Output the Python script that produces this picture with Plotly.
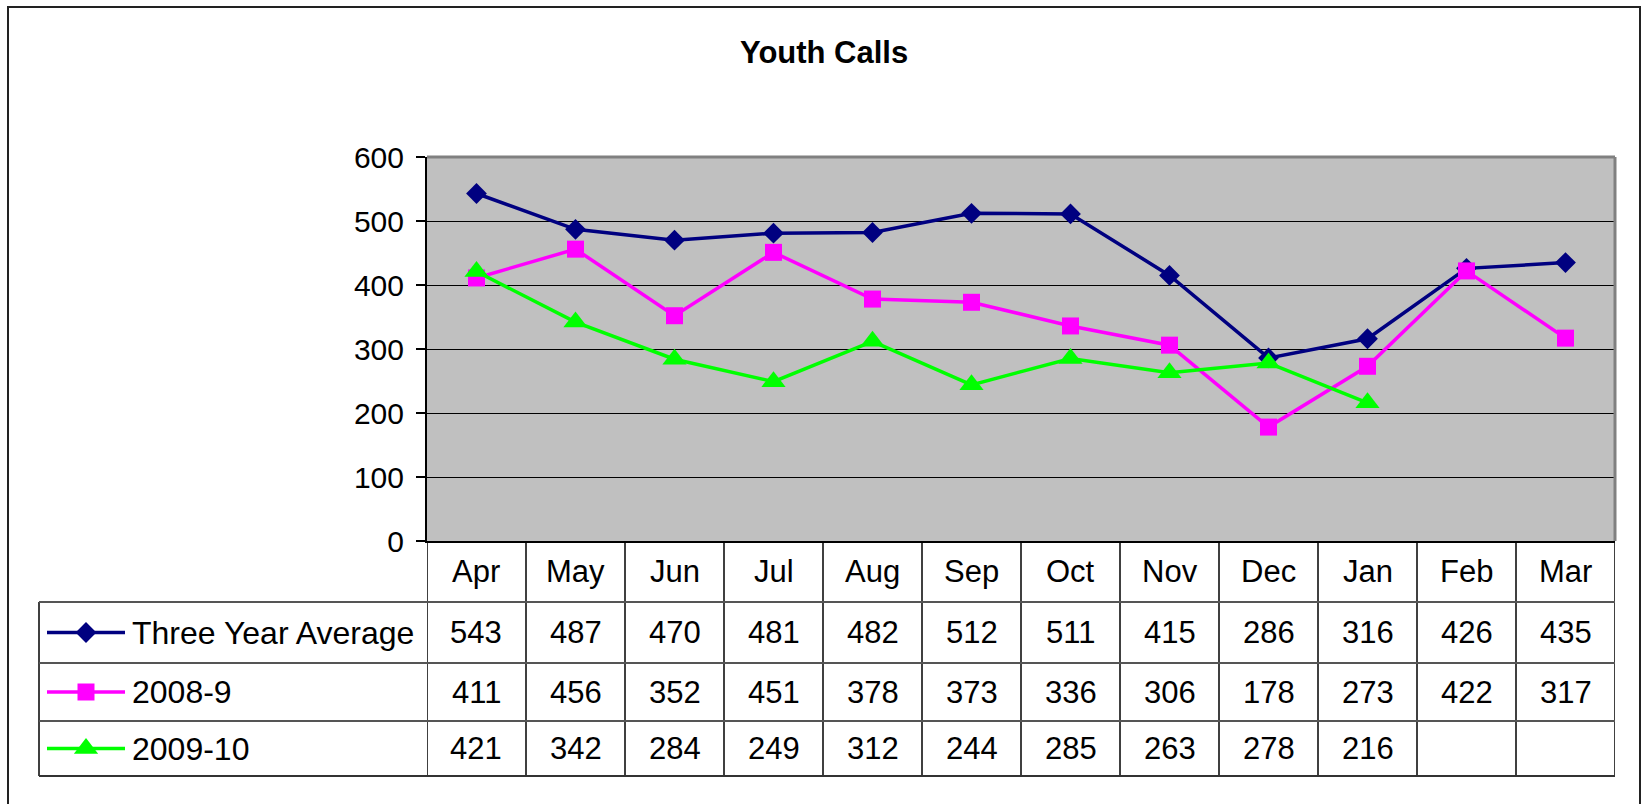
import plotly.graph_objects as go

# ---------------- data ----------------
months = ["Apr", "May", "Jun", "Jul", "Aug", "Sep", "Oct", "Nov", "Dec", "Jan", "Feb", "Mar"]
three_year_avg = [543, 487, 470, 481, 482, 512, 511, 415, 286, 316, 426, 435]
y2008_9 = [411, 456, 352, 451, 378, 373, 336, 306, 178, 273, 422, 317]
y2009_10 = [421, 342, 284, 249, 312, 244, 285, 263, 278, 216, None, None]
series_names = ["Three Year Average", "2008-9", "2009-10"]
y_ticks = [0, 100, 200, 300, 400, 500, 600]
title_text = "Youth Calls"

# ---------------- styling / layout constants ----------------
W, H = 1642, 804
FONT = "Liberation Sans, Arial, sans-serif"
FS = 31
colors = ["#000080", "#FF00FF", "#00FF00"]
symbols = ["diamond", "square", "triangle-up"]
msizes = [16, 17, 21]
LW = 3.5

PLOT_L, PLOT_R, PLOT_T, PLOT_B = 427, 1615, 157, 541
TABLE_L = 39
ROW_LINES = [602, 663, 721, 776]
KEY_X0, KEY_X1, KEY_XM, TEXT_X = 47, 125, 86, 130


def px(x):
    return x / W


def py(y):
    return 1 - y / H


series = [three_year_avg, y2008_9, y2009_10]

fig = go.Figure()

for name, vals, c, s, ms in zip(series_names, series, colors, symbols, msizes):
    fig.add_trace(go.Scatter(
        x=months, y=vals, name=name, mode="lines+markers",
        line=dict(color=c, width=LW),
        marker=dict(symbol=s, size=ms, color=c, line=dict(width=0)),
        connectgaps=False, showlegend=False, cliponaxis=False,
    ))

# legend keys drawn in a pixel-space helper subplot covering the whole figure
row_centers = [(ROW_LINES[i] + ROW_LINES[i + 1]) / 2 for i in range(3)]
for name, c, s, ms, yc in zip(series_names, colors, symbols, msizes, row_centers):
    fig.add_trace(go.Scatter(
        x=[KEY_X0, KEY_X1], y=[yc, yc], mode="lines",
        line=dict(color=c, width=LW), xaxis="x2", yaxis="y2",
        showlegend=False, hoverinfo="skip",
    ))
    fig.add_trace(go.Scatter(
        x=[KEY_XM], y=[yc], mode="markers",
        marker=dict(symbol=s, size=ms, color=c, line=dict(width=0)),
        xaxis="x2", yaxis="y2", showlegend=False, hoverinfo="skip",
    ))

shapes = []
# gray plot area background
shapes.append(dict(type="rect", xref="paper", yref="paper",
                   x0=px(PLOT_L), x1=px(PLOT_R), y0=py(PLOT_B), y1=py(PLOT_T),
                   fillcolor="#C0C0C0", line=dict(width=0), layer="below"))
# outer chart border
shapes.append(dict(type="rect", xref="paper", yref="paper",
                   x0=px(8), x1=px(1640), y0=py(7), y1=py(830),
                   line=dict(color="#222222", width=2), layer="below"))
# plot-area top and right border (gray)
shapes.append(dict(type="line", xref="paper", yref="paper",
                   x0=px(PLOT_L), x1=px(PLOT_R), y0=py(PLOT_T), y1=py(PLOT_T),
                   line=dict(color="#808080", width=3)))
shapes.append(dict(type="line", xref="paper", yref="paper",
                   x0=px(PLOT_R), x1=px(PLOT_R), y0=py(PLOT_T), y1=py(PLOT_B),
                   line=dict(color="#808080", width=3)))
# table vertical lines at column boundaries
for i in range(len(months) + 1):
    shapes.append(dict(type="line", xref="x", yref="paper",
                       x0=i - 0.5, x1=i - 0.5, y0=py(PLOT_B), y1=py(ROW_LINES[-1]),
                       line=dict(color="#000000", width=1.5)))
# legend column left border
shapes.append(dict(type="line", xref="paper", yref="paper",
                   x0=px(TABLE_L), x1=px(TABLE_L), y0=py(ROW_LINES[0]), y1=py(ROW_LINES[-1]),
                   line=dict(color="#000000", width=1.5)))
# table horizontal lines
for j, yl in enumerate(ROW_LINES):
    shapes.append(dict(type="line", xref="paper", yref="paper",
                       x0=px(TABLE_L), x1=px(PLOT_R), y0=py(yl), y1=py(yl),
                       line=dict(color="#555555" if j < 3 else "#333333", width=2)))

annotations = []
# title
annotations.append(dict(x=px(824), y=py(52), xref="paper", yref="paper",
                        text="<b>" + title_text + "</b>", showarrow=False,
                        xanchor="center", yanchor="middle",
                        font=dict(family=FONT, size=31, color="black")))
# month header row
for m in months:
    annotations.append(dict(x=m, y=py((PLOT_B + ROW_LINES[0]) / 2), xref="x", yref="paper",
                            text=m, showarrow=False, xanchor="center", yanchor="middle",
                            font=dict(family=FONT, size=FS, color="black")))
# values
for vals, yc in zip(series, row_centers):
    for m, v in zip(months, vals):
        if v is None:
            continue
        annotations.append(dict(x=m, y=py(yc), xref="x", yref="paper",
                                text=str(v), showarrow=False, xanchor="center", yanchor="middle",
                                font=dict(family=FONT, size=FS, color="black")))
# legend labels
for name, yc in zip(series_names, row_centers):
    annotations.append(dict(x=px(TEXT_X), y=py(yc), xref="paper", yref="paper",
                            text=name, showarrow=False, xanchor="left", yanchor="middle",
                            font=dict(family=FONT, size=32, color="black")))

fig.update_layout(
    template=None,
    width=W, height=H, autosize=False,
    margin=dict(l=0, r=0, t=0, b=0, pad=0),
    paper_bgcolor="white", plot_bgcolor="rgba(0,0,0,0)",
    font=dict(family=FONT, color="black"),
    xaxis=dict(type="category", categoryorder="array", categoryarray=months,
               domain=[px(PLOT_L), px(PLOT_R)], range=[-0.5, len(months) - 0.5],
               showticklabels=False, ticks="", showgrid=False, zeroline=False,
               showline=True, linecolor="black", linewidth=2, fixedrange=True,
               automargin=False, anchor="y"),
    yaxis=dict(domain=[py(PLOT_B), py(PLOT_T)], range=[0, 600], tickvals=y_ticks,
               ticks="outside", ticklen=9, tickwidth=1.5, tickcolor="black",
               ticklabelstandoff=6,
               tickfont=dict(family=FONT, size=30, color="black"),
               showgrid=True, gridcolor="black", gridwidth=1, zeroline=False,
               showline=True, linecolor="black", linewidth=2, fixedrange=True,
               automargin=False, anchor="x"),
    xaxis2=dict(domain=[0, 1], range=[0, W], visible=False, fixedrange=True,
                anchor="y2", automargin=False),
    yaxis2=dict(domain=[0, 1], range=[H, 0], visible=False, fixedrange=True,
                anchor="x2", automargin=False),
    shapes=shapes, annotations=annotations,
    showlegend=False,
)

fig.write_html("out.html", config={"displayModeBar": False},
               post_script="document.body.style.margin='0';document.body.style.overflow='hidden';")
